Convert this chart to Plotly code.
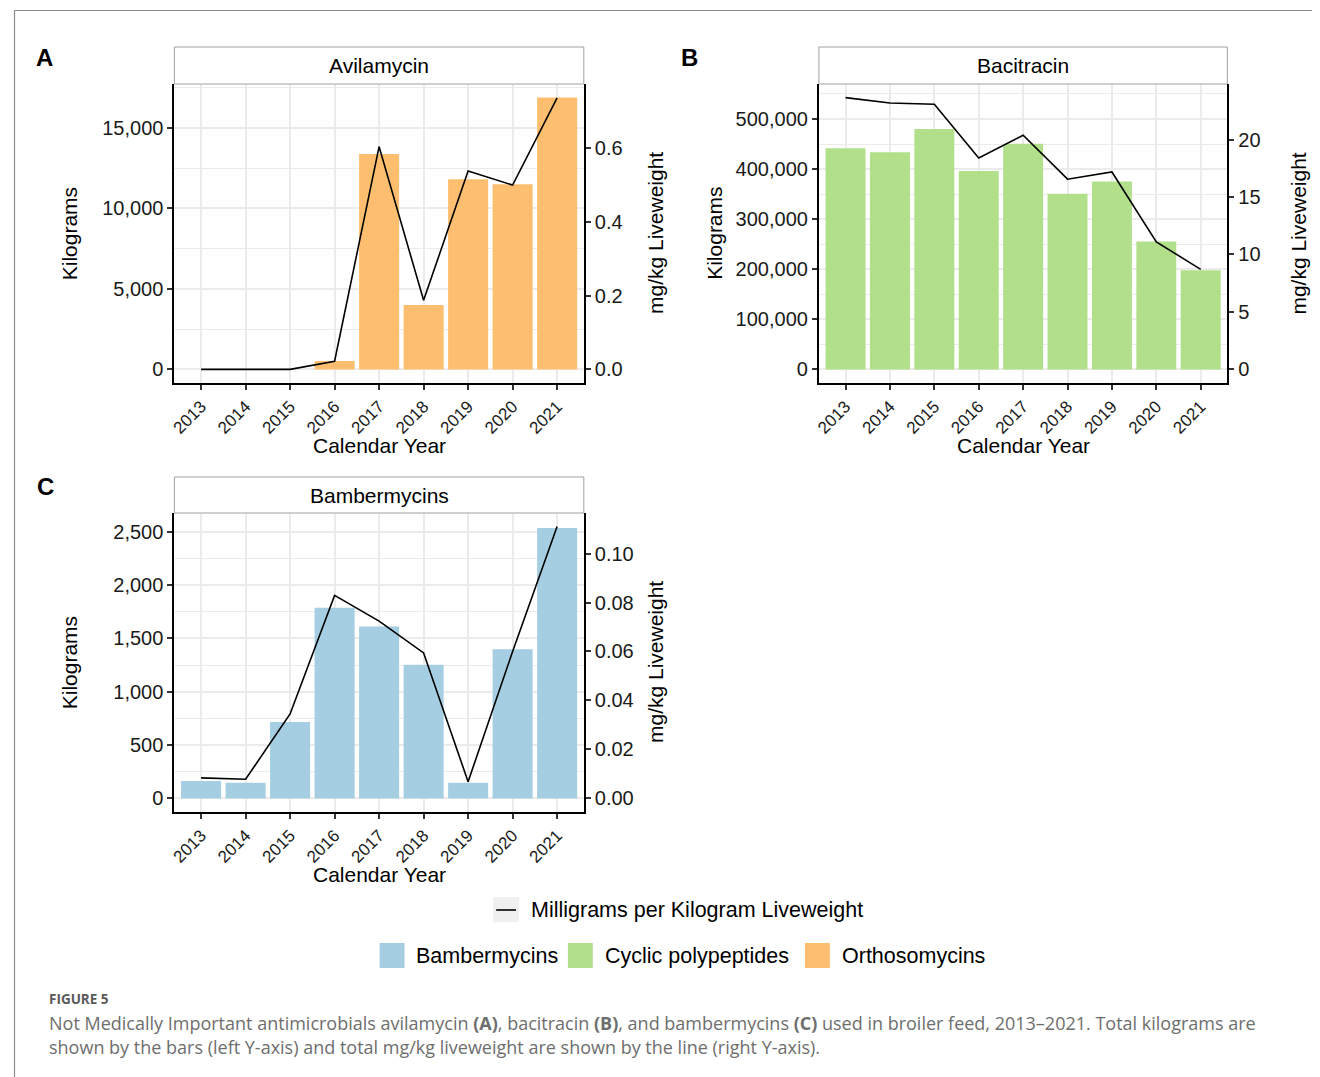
import plotly.graph_objects as go

# The browser adds an 8px body margin, so the figure is sized to fit inside it
# and every reference pixel position is shifted by OFF.
OFF = 8
W, H = 1320 - OFF, 1077 - OFF

years = [2013, 2014, 2015, 2016, 2017, 2018, 2019, 2020, 2021]
year_labels = [str(y) for y in years]

avil_kg = [0, 0, 0, 520, 13390, 4000, 11810, 11500, 16890]
avil_mgkg = [0.0, 0.0, 0.0, 0.022, 0.603, 0.187, 0.537, 0.499, 0.735]

baci_kg = [441400, 433500, 480000, 396400, 450800, 350600, 375100, 255600, 197800]
baci_mgkg = [23.65, 23.18, 23.07, 18.40, 20.37, 16.55, 17.18, 11.10, 8.70]

bamb_kg = [162, 146, 716, 1788, 1610, 1253, 146, 1398, 2535]
bamb_mgkg = [0.0084, 0.0078, 0.0345, 0.0829, 0.0724, 0.0594, 0.0068, 0.0600, 0.111]

panel_titles = ["Avilamycin", "Bacitracin", "Bambermycins"]
panel_letters = ["A", "B", "C"]
classes = ["Bambermycins", "Cyclic polypeptides", "Orthosomycins"]
class_colors = {"Bambermycins": "#A6CEE3", "Cyclic polypeptides": "#B2DF8A", "Orthosomycins": "#FDBF6F"}
line_name = "Milligrams per Kilogram Liveweight"

SEC = 22950.0  # kg per (mg/kg) used for the secondary axis

FONT = "Liberation Sans, Arial, sans-serif"
GRID = "#EBEBEB"


def fx(x):
    return (x - OFF) / W


def fy(y):
    return 1 - (y - OFF) / H


# panel boxes in reference pixels: (x0, x1, ytop, ybottom)
boxes = [(170, 581, 84, 383), (817, 1227, 84, 383), (170, 581, 513, 812)]
strips = [(47, 84), (47, 84), (477, 513)]

panels = [
    dict(kg=avil_kg, mg=avil_mgkg, cls="Orthosomycins", dtick=5000, rdtick=0.2, rfmt=".1f"),
    dict(kg=baci_kg, mg=baci_mgkg, cls="Cyclic polypeptides", dtick=100000, rdtick=5, rfmt="d"),
    dict(kg=bamb_kg, mg=bamb_mgkg, cls="Bambermycins", dtick=500, rdtick=0.02, rfmt=".2f"),
]

fig = go.Figure()
shapes = []
annotations = []

tickfont = dict(family=FONT, size=20, color="#1a1a1a")
yearfont = dict(family=FONT, size=17, color="#1a1a1a")
titlefont = dict(family=FONT, size=21, color="#000000")

for i, p in enumerate(panels):
    xn = 2 * i + 1
    yl = 2 * i + 1
    yr = 2 * i + 2
    xs = "" if xn == 1 else str(xn)
    yls = "" if yl == 1 else str(yl)
    yrs = str(yr)
    x0, x1, yt, yb = boxes[i]

    M = max(max(p["kg"]), max(p["mg"]) * SEC)
    lo, hi = -0.05 * M, 1.05 * M

    fig.add_trace(go.Bar(
        x=years, y=p["kg"], width=0.9,
        marker=dict(color=class_colors[p["cls"]], line=dict(width=0)),
        name=p["cls"], showlegend=False,
        xaxis="x" + xs, yaxis="y" + yls,
    ))
    fig.add_trace(go.Scatter(
        x=years, y=p["mg"], mode="lines",
        line=dict(color="black", width=1.6),
        name=line_name, showlegend=False,
        xaxis="x" + xs, yaxis="y" + yrs,
    ))

    fig.layout["xaxis" + xs] = dict(
        domain=[fx(x0), fx(x1)], anchor="y" + yls,
        range=[2012.4, 2021.6], tickmode="array", tickvals=years, ticktext=year_labels,
        tickangle=-45, tickfont=yearfont,
        showgrid=True, gridcolor=GRID, gridwidth=1.5, zeroline=False,
        showline=True, linecolor="black", linewidth=2,
        ticks="outside", ticklen=5, tickwidth=1.5, tickcolor="#333333",
    )
    fig.layout["yaxis" + yls] = dict(
        domain=[fy(yb), fy(yt)], anchor="x" + xs,
        range=[lo, hi], dtick=p["dtick"], tick0=0, tickformat=",d",
        tickfont=tickfont,
        showgrid=True, gridcolor=GRID, gridwidth=1.5, zeroline=False,
        minor=dict(dtick=p["dtick"] / 2, tick0=0, showgrid=True, gridcolor=GRID, gridwidth=0.9),
        showline=True, linecolor="black", linewidth=2,
        ticks="outside", ticklen=5, tickwidth=1.5, tickcolor="#333333",
    )
    fig.layout["yaxis" + yrs] = dict(
        domain=[fy(yb), fy(yt)], anchor="x" + xs, overlaying="y" + yls, side="right",
        range=[lo / SEC, hi / SEC], dtick=p["rdtick"], tick0=0, tickformat=p["rfmt"],
        tickfont=tickfont,
        showgrid=False, zeroline=False,
        showline=True, linecolor="black", linewidth=2,
        ticks="outside", ticklen=5, tickwidth=1.5, tickcolor="#333333",
    )

    # strip
    s0, s1 = strips[i]
    shapes.append(dict(type="rect", xref="paper", yref="paper",
                       x0=fx(x0), x1=fx(x1), y0=fy(s1), y1=fy(s0),
                       fillcolor="white", line=dict(color="#A0A0A0", width=1)))
    annotations.append(dict(text=panel_titles[i], xref="paper", yref="paper",
                            x=fx((x0 + x1) / 2), y=fy((s0 + s1) / 2), showarrow=False,
                            xanchor="center", yanchor="middle", font=titlefont))
    # axis titles
    cy = (yt + yb) / 2
    left_title_x = 65 if i != 1 else 712
    right_title_x = 653 if i != 1 else 1298
    annotations.append(dict(text="Kilograms", xref="paper", yref="paper",
                            x=fx(left_title_x), y=fy(cy), textangle=-90, showarrow=False,
                            xanchor="center", yanchor="middle", font=titlefont))
    annotations.append(dict(text="mg/kg Liveweight", xref="paper", yref="paper",
                            x=fx(right_title_x), y=fy(cy), textangle=-90, showarrow=False,
                            xanchor="center", yanchor="middle", font=titlefont))
    annotations.append(dict(text="Calendar Year", xref="paper", yref="paper",
                            x=fx((x0 + x1) / 2), y=fy(yb + 62), showarrow=False,
                            xanchor="center", yanchor="middle", font=titlefont))

# panel letters
for letter, (lx, ly) in zip(panel_letters, [(40, 57), (687, 57), (41, 486)]):
    annotations.append(dict(text="<b>" + letter + "</b>", xref="paper", yref="paper",
                            x=fx(lx), y=fy(ly), showarrow=False,
                            xanchor="center", yanchor="middle",
                            font=dict(family=FONT, size=24, color="black")))

# legend: line key
legfont = dict(family=FONT, size=21.5, color="#000000")
shapes.append(dict(type="rect", xref="paper", yref="paper",
                   x0=fx(490), x1=fx(516), y0=fy(922), y1=fy(897),
                   fillcolor="#F0F0F0", line=dict(width=0)))
shapes.append(dict(type="line", xref="paper", yref="paper",
                   x0=fx(493), x1=fx(513), y0=fy(910), y1=fy(910),
                   line=dict(color="black", width=1.6)))
annotations.append(dict(text=line_name, xref="paper", yref="paper",
                        x=fx(526), y=fy(910), showarrow=False,
                        xanchor="left", yanchor="middle", font=legfont))
# legend: fill keys
key_x = [376, 565, 803]
for cls, kx in zip(classes, key_x):
    shapes.append(dict(type="rect", xref="paper", yref="paper",
                       x0=fx(kx), x1=fx(kx + 25), y0=fy(968), y1=fy(943),
                       fillcolor=class_colors[cls], line=dict(width=0)))
    annotations.append(dict(text=cls, xref="paper", yref="paper",
                            x=fx(kx + 35), y=fy(956), showarrow=False,
                            xanchor="left", yanchor="middle", font=legfont))

# outer frame (left and top edges visible)
shapes.append(dict(type="line", xref="paper", yref="paper",
                   x0=fx(9.5), x1=fx(1330), y0=fy(10.5), y1=fy(10.5),
                   line=dict(color="#8C8C8C", width=1.2), layer="below"))
shapes.append(dict(type="line", xref="paper", yref="paper",
                   x0=fx(9.5), x1=fx(9.5), y0=fy(10.5), y1=fy(1090),
                   line=dict(color="#8C8C8C", width=1.2), layer="below"))

# caption
CAPFONT = "Open Sans, Lato, sans-serif"
annotations.append(dict(text="<b>FIGURE 5</b>", xref="paper", yref="paper",
                        x=fx(42), y=fy(999), showarrow=False,
                        xanchor="left", yanchor="middle",
                        font=dict(family=CAPFONT, size=13.5, color="#5a5a5a")))
cap1 = ("Not Medically Important antimicrobials avilamycin <b>(A)</b>, bacitracin <b>(B)</b>, "
        "and bambermycins <b>(C)</b> used in broiler feed, 2013\u20132021. Total kilograms are")
cap2 = "shown by the bars (left Y-axis) and total mg/kg liveweight are shown by the line (right Y-axis)."
for txt, cy in [(cap1, 1023), (cap2, 1047)]:
    annotations.append(dict(text=txt, xref="paper", yref="paper",
                            x=fx(42), y=fy(cy), showarrow=False,
                            xanchor="left", yanchor="middle",
                            font=dict(family=CAPFONT, size=18, color="#6e6e6e")))

fig.update_layout(
    width=W, height=H,
    margin=dict(l=0, r=0, t=0, b=0),
    paper_bgcolor="white", plot_bgcolor="white",
    showlegend=False,
    bargap=0.1,
    shapes=shapes,
    annotations=annotations,
    font=dict(family=FONT),
)

fig.write_html("out.html")
